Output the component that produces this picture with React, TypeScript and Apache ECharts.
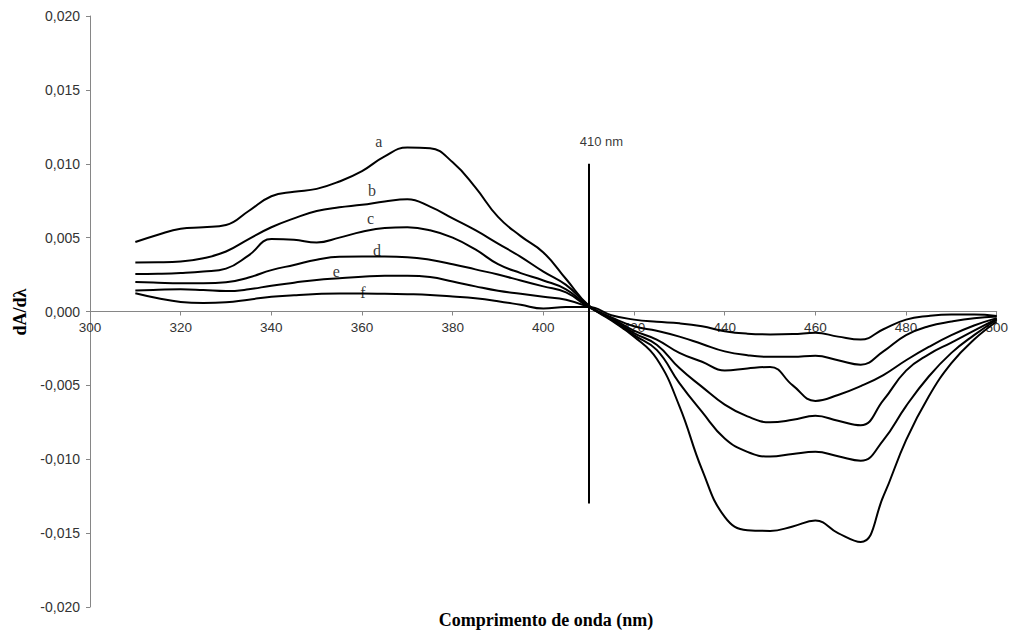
import React, { useEffect, useRef } from "react";
import * as echarts from "echarts";

const wavelengths = [
  310, 315, 320, 325, 330, 335, 340, 345, 350, 355, 360, 365, 370, 375, 380, 385, 390, 395, 400, 405, 410,
  415, 420, 425, 430, 435, 440, 445, 450, 455, 460, 465, 470, 475, 480, 485, 490, 495, 500,
];

const curveA = [
  0.0047, 0.0052, 0.0056, 0.0057, 0.00585, 0.0068, 0.0078, 0.0081, 0.0083, 0.0088, 0.0095, 0.0105, 0.0111, 0.01105, 0.0101, 0.0084, 0.0064, 0.0051, 0.004, 0.0022, 0.0004,
  -0.0006, -0.0017, -0.0032, -0.0064, -0.0107, -0.0139, -0.0148, -0.01485, -0.01455, -0.01415, -0.015, -0.0156, -0.0125, -0.0087, -0.00575, -0.0035, -0.0019, -0.00068,
];
const curveB = [
  0.00332, 0.00333, 0.00338, 0.0036, 0.00406, 0.0049, 0.0057, 0.0063, 0.0068, 0.00705, 0.00722, 0.00745, 0.0076, 0.0071, 0.0063, 0.0055, 0.0046, 0.0037, 0.0027, 0.0018, 0.0004,
  -0.00055, -0.0016, -0.0026, -0.00485, -0.0068, -0.0086, -0.0095, -0.00982, -0.00964, -0.0095, -0.0098, -0.0101, -0.0087, -0.0064, -0.0044, -0.0028, -0.0016, -0.00056,
];
const curveC = [
  0.00253, 0.00255, 0.0026, 0.0027, 0.0029, 0.0038, 0.0049, 0.00485, 0.00467, 0.005, 0.0054, 0.00565, 0.0057, 0.0055, 0.005, 0.0042, 0.0032, 0.0026, 0.0021, 0.0015, 0.00035,
  -0.0005, -0.00146, -0.00225, -0.00383, -0.0051, -0.0063, -0.0071, -0.0075, -0.00733, -0.00706, -0.0074, -0.0077, -0.006, -0.004, -0.0029, -0.0021, -0.0013, -0.0005,
];
const curveD = [
  0.002, 0.00195, 0.00192, 0.00192, 0.00198, 0.0023, 0.0028, 0.00315, 0.0035, 0.0037, 0.00372, 0.00372, 0.00368, 0.0035, 0.0032, 0.00285, 0.0025, 0.0021, 0.0017, 0.0013, 0.0003,
  -0.00045, -0.0013, -0.0019, -0.0028, -0.0034, -0.004, -0.00385, -0.00375, -0.005, -0.00605, -0.00565, -0.00505, -0.0043, -0.0033, -0.0024, -0.0016, -0.00095, -0.00045,
];
const curveE = [
  0.00142, 0.00147, 0.0015, 0.00145, 0.00138, 0.0015, 0.00175, 0.00195, 0.00214, 0.00225, 0.00235, 0.00242, 0.00242, 0.00233, 0.00203, 0.0017, 0.0014, 0.0012, 0.001, 0.0008, 0.0003,
  -0.0004, -0.001, -0.0013, -0.0017, -0.0022, -0.0027, -0.00296, -0.00307, -0.00307, -0.003, -0.0033, -0.0036, -0.0027, -0.0016, -0.001, -0.00068, -0.00045, -0.00034,
];
const curveF = [
  0.00124, 0.0009, 0.00065, 0.00058, 0.00062, 0.0008, 0.001, 0.0011, 0.00118, 0.00122, 0.00122, 0.0012, 0.00117, 0.00112, 0.00102, 0.0009, 0.0007, 0.00045, 0.0002, 0.0003, 0.0003,
  -0.00025, -0.00055, -0.0007, -0.0008, -0.001, -0.00133, -0.0015, -0.00155, -0.00153, -0.00144, -0.0017, -0.0019, -0.0012, -0.00055, -0.0003, -0.0002, -0.0002, -0.0003,
];

const curveNames = ["a", "b", "c", "d", "e", "f"];
const curves = [curveA, curveB, curveC, curveD, curveE, curveF];
// label anchor positions (wavelength, value) for curve letters
const letterX = [363.7, 362.2, 361.9, 363.3, 354.3, 360.2];
const letterY = [0.0115, 0.0082, 0.0063, 0.0041, 0.0027, 0.0013];

const markerWavelength = 410;
const markerTop = 0.01;
const markerBottom = -0.013;
const markerText = "410 nm";
const markerLabelPos = [412.8, 0.0115];

const xTitle = "Comprimento de onda (nm)";
const yTitle = "dA/dλ";

export default function App() {
  const ref = useRef<HTMLDivElement>(null);
  useEffect(() => {
    document.body.style.margin = "0";
    const chart = echarts.init(ref.current!, null, { renderer: "svg" });
    const axisGrey = "#868686";
    const gridTop = 16;
    const gridBottom = 27;
    const plotH = 634 - gridTop - gridBottom;
    const lineSeries = curves.map((c, idx) => ({
      type: "line",
      name: curveNames[idx],
      data: wavelengths.map((w, i) => [w, c[i]]),
      smooth: 0.45,
      showSymbol: false,
      symbol: "none",
      lineStyle: { color: "#000", width: 2 },
      z: 3,
      ...(idx === 0
        ? {
            markLine: {
              silent: true,
              symbol: ["none", "none"],
              label: { show: false },
              lineStyle: { color: "#000", width: 2, type: "solid" },
              data: [[{ coord: [markerWavelength, markerTop] }, { coord: [markerWavelength, markerBottom] }]],
            },
          }
        : {}),
    }));
    const labelData: any[] = curveNames.map((n, i) => ({
      value: [letterX[i], letterY[i], n],
    }));
    labelData.push({
      value: [markerLabelPos[0], markerLabelPos[1], markerText],
      label: { fontFamily: "'Liberation Sans', Arial, sans-serif", fontSize: 13 },
    });
    chart.setOption({
      animation: false,
      backgroundColor: "#fff",
      grid: { left: 90, right: 8, top: gridTop, bottom: gridBottom, containLabel: false },
      xAxis: {
        type: "value",
        min: 300,
        max: 500,
        interval: 20,
        position: "bottom",
        offset: -plotH / 2,
        axisLine: { show: true, onZero: false, lineStyle: { color: axisGrey, width: 1 } },
        axisTick: { show: true, length: 4, lineStyle: { color: axisGrey } },
        axisLabel: {
          margin: 9,
          fontSize: 13.5,
          color: "#333",
          fontFamily: "'Liberation Sans', Arial, sans-serif",
        },
        splitLine: { show: false },
      },
      yAxis: {
        type: "value",
        min: -0.02,
        max: 0.02,
        interval: 0.005,
        axisLine: { show: true, onZero: false, lineStyle: { color: axisGrey, width: 1 } },
        axisTick: { show: true, length: 4, lineStyle: { color: axisGrey } },
        axisLabel: {
          margin: 10,
          fontSize: 14,
          color: "#333",
          fontFamily: "'Liberation Sans', Arial, sans-serif",
          formatter: (v: number) => v.toFixed(3).replace(".", ","),
        },
        splitLine: { show: false },
      },
      series: [
        ...lineSeries,
        {
          type: "scatter",
          data: labelData,
          symbolSize: 1,
          itemStyle: { color: "rgba(0,0,0,0)" },
          silent: true,
          z: 5,
          label: {
            show: true,
            position: "inside",
            color: "#000",
            fontFamily: "'Liberation Serif', 'Times New Roman', serif",
            fontSize: 16,
            formatter: (p: any) => p.value[2],
          },
        },
      ],
      graphic: [
        {
          type: "text",
          x: 20,
          y: 312,
          rotation: Math.PI / 2,
          style: {
            text: yTitle,
            fontFamily: "'Liberation Serif', 'Times New Roman', serif",
            fontWeight: "bold",
            fontSize: 18,
            fill: "#000",
            align: "center",
            verticalAlign: "middle",
          },
        },
        {
          type: "text",
          x: 546,
          y: 620,
          style: {
            text: xTitle,
            fontFamily: "'Liberation Serif', 'Times New Roman', serif",
            fontWeight: "bold",
            fontSize: 18,
            fill: "#000",
            align: "center",
            verticalAlign: "middle",
          },
        },
      ],
    });
    return () => chart.dispose();
  }, []);
  return <div ref={ref} style={{ width: 1011, height: 634 }} />;
}
